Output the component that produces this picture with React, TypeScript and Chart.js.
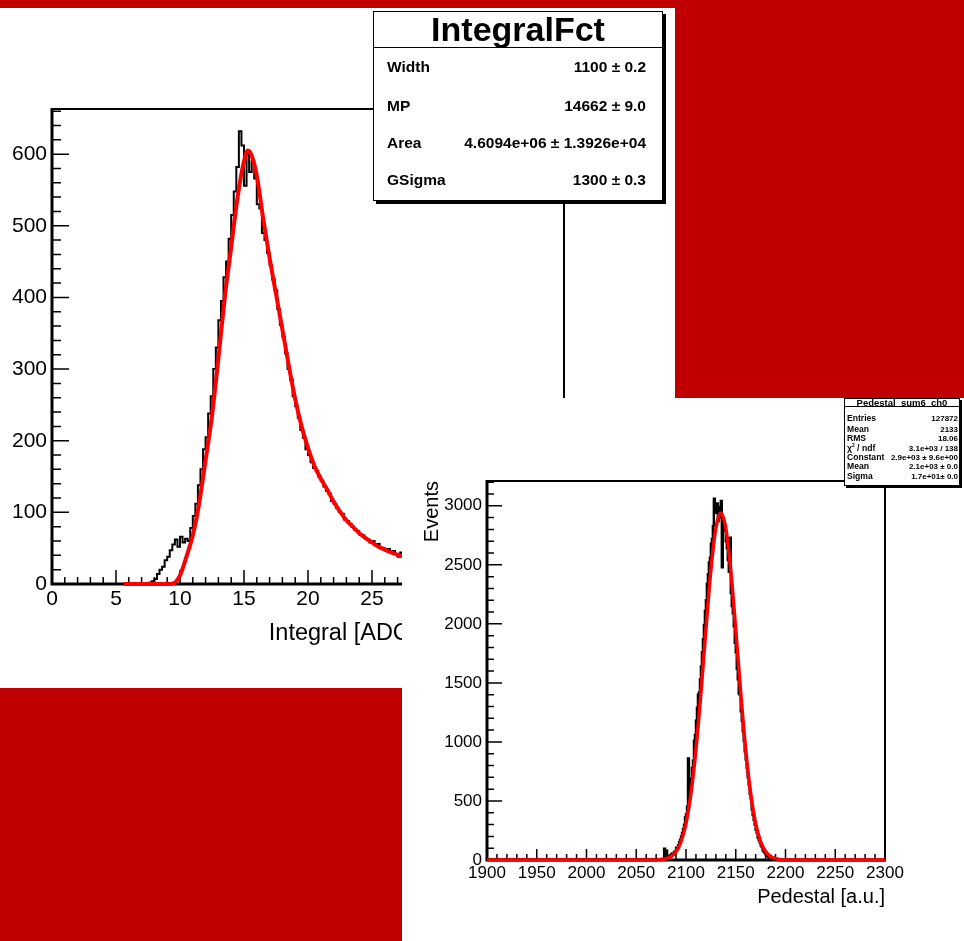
import React, { useEffect, useRef } from "react";
import { Chart, registerables } from "chart.js";

Chart.register(...registerables);

const FONT = '"Liberation Sans", Arial, Helvetica, sans-serif';
const BACKDROP = "#c00000";
const FIT_RED = "#ff0000";

// ---- Integral spectrum (left pad) ----
const INTEGRAL_BIN_START = 7.0;
const INTEGRAL_BIN_WIDTH = 0.2;
const INTEGRAL_COUNTS = [
  0, 0, 0, 1, 2, 4, 7, 14, 20, 24,
  33, 38, 47, 55, 62, 52, 66, 58, 63, 60,
  78, 95, 112, 138, 160, 188, 205, 238, 262, 300,
  330, 368, 395, 428, 450, 482, 515, 548, 582, 632,
  612, 556, 600, 575, 590, 566, 530, 524, 490, 480,
  462, 445, 425, 410, 384, 362, 345, 322, 300, 285,
  262, 248, 232, 215, 204, 188, 180, 170, 162, 158,
  150, 144, 136, 130, 126, 116, 112, 106, 101, 98,
  90, 88, 84, 80, 76, 74, 69, 68, 64, 62,
  58, 60, 54, 56, 51, 50, 47, 49, 45, 46,
  42, 38, 44, 40, 38,
];
const INTEGRAL_FIT_X = [
  5.6, 7, 8, 9, 9.5, 10, 10.5, 11, 11.5, 12, 12.5, 13, 13.5, 14, 14.5, 15, 15.3, 15.6, 16, 16.5,
  17, 17.5, 18, 18.5, 19, 19.5, 20, 20.5, 21, 21.5, 22, 22.5, 23, 23.5, 24, 24.5, 25, 25.5, 26, 26.5,
  27, 27.5, 28, 29, 30, 32, 34, 36, 38, 40,
];
const INTEGRAL_FIT_Y = [
  0, 0, 0, 0, 1, 12, 38, 68, 113, 173, 235, 315, 400, 470, 540, 590, 605, 598, 570, 510,
  455, 405, 355, 305, 258, 220, 190, 165, 147, 132, 115, 101, 89, 80, 71, 64, 58, 52, 48, 44,
  41, 38, 36, 32, 28, 22, 18, 15, 12, 10,
];
const INTEGRAL_X_TICKS = [0, 5, 10, 15, 20, 25, 30, 35, 40];
const INTEGRAL_Y_TICKS = [0, 100, 200, 300, 400, 500, 600];
const INTEGRAL_FIT_LABELS = ["Width", "MP", "Area", "GSigma"];
const INTEGRAL_FIT_VALUES = ["1100 \u00b1 0.2", "14662 \u00b1 9.0", "4.6094e+06 \u00b1 1.3926e+04", "1300 \u00b1 0.3"];

// ---- Pedestal spectrum (right pad) ----
const PEDESTAL_BIN_START = 2075;
const PEDESTAL_COUNTS = [
  4, 6, 9, 8, 95, 22, 78, 25, 21, 34,
  38, 48, 55, 44, 70, 66, 104, 93, 125, 150,
  172, 200, 230, 262, 300, 360, 388, 452, 860, 540,
  610, 690, 780, 840, 1010, 1060, 1180, 1290, 1400, 1420,
  1530, 1640, 1760, 1870, 1990, 2110, 2200, 2340, 2420, 2520,
  2560, 2680, 2720, 2830, 3060, 2980, 2940, 3020, 2870, 2990,
  2900, 3040, 2480, 2880, 2850, 2790, 2700, 2640, 2540, 2440,
  2730, 2260, 2150, 2090, 1980, 1840, 1760, 1620, 1530, 1410,
  1400, 1260, 1180, 1090, 1010, 920, 850, 780, 700, 640,
  560, 520, 430, 380, 340, 300, 255, 230, 190, 170,
  150, 125, 110, 82, 70, 58, 48, 36, 30, 22,
  18, 13, 10, 8, 6, 5, 3, 2, 2, 1, 0,
];
const PEDESTAL_FIT_X = [
  1900, 2060, 2070, 2075, 2080, 2085, 2090, 2095, 2100, 2105, 2110, 2115, 2120, 2125, 2130, 2135,
  2140, 2145, 2150, 2155, 2160, 2165, 2170, 2175, 2180, 2185, 2190, 2195, 2200, 2210, 2300,
];
const PEDESTAL_FIT_Y = [
  0, 0, 1, 4, 11, 30, 72, 156, 311, 565, 936, 1415, 1951, 2455, 2810, 2940,
  2810, 2455, 1951, 1415, 936, 565, 311, 156, 72, 30, 11, 4, 1, 0, 0,
];
const PEDESTAL_X_TICKS = [1900, 1950, 2000, 2050, 2100, 2150, 2200, 2250, 2300];
const PEDESTAL_Y_TICKS = [0, 500, 1000, 1500, 2000, 2500, 3000];
const PEDESTAL_STAT_LABELS = ["Entries", "Mean", "RMS", "chi2", "Constant", "Mean", "Sigma"];
const PEDESTAL_STAT_VALUES = [
  "127872", "2133", "18.06", "3.1e+03 / 138", "2.9e+03 \u00b1 9.6e+00", "2.1e+03 \u00b1 0.0", "1.7e+01\u00b1 0.0",
];

type Pt = { x: number; y: number };

function histogramSteps(start: number, width: number, counts: number[], lo: number, hi: number): Pt[] {
  const pts: Pt[] = [{ x: lo, y: 0 }];
  counts.forEach((c, i) => pts.push({ x: start + i * width, y: c }));
  const end = start + counts.length * width;
  pts.push({ x: end, y: 0 });
  if (hi > end) pts.push({ x: hi, y: 0 });
  return pts;
}

function curvePoints(xs: number[], ys: number[]): Pt[] {
  return xs.map((x, i) => ({ x, y: ys[i] }));
}

type FrameStyle = {
  xMajor: number[];
  xMinorStep: number;
  yMajor: number[];
  yMinorStep: number;
  xMajorLen: number;
  xMinorLen: number;
  yMajorLen: number;
  yMinorLen: number;
};

// ROOT-like frame: ticks pointing inwards, heavier axes on the left and bottom
function rootFrame(id: string, s: FrameStyle) {
  return {
    id,
    beforeDatasetsDraw(chart: any) {
      const { ctx, chartArea } = chart;
      const { left, right, top, bottom } = chartArea;
      const xs = chart.scales.x;
      const ys = chart.scales.y;
      ctx.save();
      ctx.strokeStyle = "#000";
      ctx.lineWidth = 1.5;
      ctx.beginPath();
      for (let v = xs.min; v <= xs.max + 1e-9; v += s.xMinorStep) {
        const major = s.xMajor.some((m) => Math.abs(m - v) < 1e-6);
        const px = xs.getPixelForValue(v);
        ctx.moveTo(px, bottom);
        ctx.lineTo(px, bottom - (major ? s.xMajorLen : s.xMinorLen));
      }
      for (let v = ys.min; v <= ys.max + 1e-9; v += s.yMinorStep) {
        const major = s.yMajor.some((m) => Math.abs(m - v) < 1e-6);
        const py = ys.getPixelForValue(v);
        ctx.moveTo(left, py);
        ctx.lineTo(left + (major ? s.yMajorLen : s.yMinorLen), py);
      }
      ctx.stroke();

      ctx.lineWidth = 2;
      ctx.beginPath();
      ctx.moveTo(left, top);
      ctx.lineTo(right, top);
      ctx.lineTo(right, bottom);
      ctx.stroke();

      ctx.lineWidth = 3;
      ctx.beginPath();
      ctx.moveTo(left, top - 1);
      ctx.lineTo(left, bottom);
      ctx.lineTo(right + 1, bottom);
      ctx.stroke();
      ctx.restore();
    },
  };
}

function tickFont(size: number) {
  return { family: FONT, size, weight: "normal" as const };
}

function IntegralPlot() {
  const ref = useRef<HTMLCanvasElement | null>(null);
  useEffect(() => {
    if (!ref.current) return;
    const chart = new Chart(ref.current, {
      type: "line",
      data: {
        datasets: [
          {
            data: curvePoints(INTEGRAL_FIT_X, INTEGRAL_FIT_Y),
            borderColor: FIT_RED,
            borderWidth: 4,
            pointRadius: 0,
            cubicInterpolationMode: "monotone",
            fill: false,
            clip: false as any,
          },
          {
            data: histogramSteps(INTEGRAL_BIN_START, INTEGRAL_BIN_WIDTH, INTEGRAL_COUNTS, 0, 0),
            borderColor: "#000",
            borderWidth: 2,
            pointRadius: 0,
            stepped: "after",
            fill: false,
            clip: false as any,
          },
        ],
      },
      options: {
        animation: false,
        responsive: false,
        devicePixelRatio: 1,
        events: [],
        layout: { padding: { left: 0, right: 111, top: 101, bottom: 0 } },
        plugins: { legend: { display: false }, tooltip: { enabled: false } },
        scales: {
          x: {
            type: "linear",
            min: 0,
            max: 40,
            grid: { display: false, drawTicks: false },
            border: { display: false },
            ticks: {
              color: "#000",
              font: tickFont(21),
              padding: 3,
              maxRotation: 0,
              minRotation: 0,
              autoSkip: false,
              callback: (v: any) => String(v),
            },
            afterBuildTicks: (s: any) => {
              s.ticks = INTEGRAL_X_TICKS.map((value) => ({ value }));
            },
            afterFit: (s: any) => {
              s.height = 104;
            },
            title: {
              display: true,
              text: "Integral [ADC counts / 1000]",
              align: "end",
              color: "#000",
              font: { family: FONT, size: 23.5 },
              padding: { top: 0, bottom: 40 },
            },
          },
          y: {
            type: "linear",
            min: 0,
            max: 663,
            grid: { display: false, drawTicks: false },
            border: { display: false },
            ticks: {
              color: "#000",
              font: tickFont(21),
              padding: 5,
              autoSkip: false,
              callback: (v: any) => String(v),
            },
            afterBuildTicks: (s: any) => {
              s.ticks = INTEGRAL_Y_TICKS.map((value) => ({ value }));
            },
            afterFit: (s: any) => {
              s.width = 52;
            },
          },
        },
      } as any,
      plugins: [
        rootFrame("integralFrame", {
          xMajor: INTEGRAL_X_TICKS,
          xMinorStep: 1,
          yMajor: INTEGRAL_Y_TICKS,
          yMinorStep: 20,
          xMajorLen: 14,
          xMinorLen: 7,
          yMajorLen: 17,
          yMinorLen: 9,
        }),
      ],
    });
    return () => chart.destroy();
  }, []);
  return (
    <canvas
      ref={ref}
      width={675}
      height={680}
      style={{ position: "absolute", left: 0, top: 8, width: 675, height: 680 }}
    />
  );
}

function PedestalPlot() {
  const ref = useRef<HTMLCanvasElement | null>(null);
  useEffect(() => {
    if (!ref.current) return;
    const chart = new Chart(ref.current, {
      type: "line",
      data: {
        datasets: [
          {
            data: curvePoints(PEDESTAL_FIT_X, PEDESTAL_FIT_Y),
            borderColor: FIT_RED,
            borderWidth: 3.5,
            pointRadius: 0,
            cubicInterpolationMode: "monotone",
            fill: false,
            clip: false as any,
          },
          {
            data: histogramSteps(PEDESTAL_BIN_START, 1, PEDESTAL_COUNTS, 1900, 2300),
            borderColor: "#000",
            borderWidth: 2.4,
            pointRadius: 0,
            stepped: "after",
            fill: false,
            clip: false as any,
          },
        ],
      },
      options: {
        animation: false,
        responsive: false,
        devicePixelRatio: 1,
        events: [],
        layout: { padding: { left: 0, right: 79, top: 83, bottom: 0 } },
        plugins: { legend: { display: false }, tooltip: { enabled: false } },
        scales: {
          x: {
            type: "linear",
            min: 1900,
            max: 2300,
            grid: { display: false, drawTicks: false },
            border: { display: false },
            ticks: {
              color: "#000",
              font: tickFont(17),
              padding: 3,
              maxRotation: 0,
              minRotation: 0,
              autoSkip: false,
              callback: (v: any) => String(v),
            },
            afterBuildTicks: (s: any) => {
              s.ticks = PEDESTAL_X_TICKS.map((value) => ({ value }));
            },
            afterFit: (s: any) => {
              s.height = 81;
            },
            title: {
              display: true,
              text: "Pedestal [a.u.]",
              align: "end",
              color: "#000",
              font: { family: FONT, size: 20 },
              padding: { top: 0, bottom: 32 },
            },
          },
          y: {
            type: "linear",
            min: 0,
            max: 3210,
            grid: { display: false, drawTicks: false },
            border: { display: false },
            ticks: {
              color: "#000",
              font: tickFont(17),
              padding: 5,
              autoSkip: false,
              callback: (v: any) => String(v),
            },
            afterBuildTicks: (s: any) => {
              s.ticks = PEDESTAL_Y_TICKS.map((value) => ({ value }));
            },
            afterFit: (s: any) => {
              s.width = 85;
            },
            title: {
              display: true,
              text: "Events",
              align: "end",
              color: "#000",
              font: { family: FONT, size: 20 },
              padding: { top: 18, bottom: 0 },
            },
          },
        },
      } as any,
      plugins: [
        rootFrame("pedestalFrame", {
          xMajor: PEDESTAL_X_TICKS,
          xMinorStep: 10,
          yMajor: PEDESTAL_Y_TICKS,
          yMinorStep: 100,
          xMajorLen: 11,
          xMinorLen: 6,
          yMajorLen: 15,
          yMinorLen: 7,
        }),
      ],
    });
    return () => chart.destroy();
  }, []);
  return (
    <canvas
      ref={ref}
      width={562}
      height={543}
      style={{ position: "absolute", left: 402, top: 398, width: 562, height: 543 }}
    />
  );
}

function IntegralFitBox() {
  const rowCenters = [55, 94, 131, 168];
  return (
    <div
      style={{
        position: "absolute",
        left: 373,
        top: 11,
        width: 290,
        height: 190,
        boxSizing: "border-box",
        background: "#fff",
        border: "1px solid #000",
        boxShadow: "3px 3px 0 #000",
        fontFamily: FONT,
        color: "#000",
      }}
    >
      <div
        style={{
          height: 35,
          lineHeight: "35px",
          borderBottom: "1px solid #000",
          textAlign: "center",
          fontSize: 34,
          fontWeight: "bold",
        }}
      >
        IntegralFct
      </div>
      {INTEGRAL_FIT_LABELS.map((label, i) => (
        <div
          key={label}
          style={{
            position: "absolute",
            left: 13,
            right: 16,
            top: rowCenters[i] - 10,
            height: 20,
            lineHeight: "20px",
            fontSize: 15.5,
            fontWeight: "bold",
            display: "flex",
            justifyContent: "space-between",
            whiteSpace: "nowrap",
          }}
        >
          <span>{label}</span>
          <span>{INTEGRAL_FIT_VALUES[i]}</span>
        </div>
      ))}
    </div>
  );
}

function PedestalStatsBox() {
  const rowCenters = [19.5, 30, 39.7, 49, 58, 67.7, 77];
  return (
    <div
      style={{
        position: "absolute",
        left: 844,
        top: 398,
        width: 116,
        height: 88,
        boxSizing: "border-box",
        background: "#fff",
        border: "1px solid #000",
        boxShadow: "2px 2px 0 #000",
        fontFamily: FONT,
        color: "#000",
        fontWeight: "bold",
      }}
    >
      <div
        style={{
          height: 7,
          lineHeight: "8px",
          fontSize: 9.5,
          borderBottom: "1px solid #000",
          textAlign: "center",
          whiteSpace: "pre",
        }}
      >
        {"Pedestal  sum6  ch0"}
      </div>
      {PEDESTAL_STAT_LABELS.map((label, i) => (
        <div
          key={i}
          style={{
            position: "absolute",
            left: 2,
            right: 1,
            top: rowCenters[i] - 4.5,
            height: 9,
            lineHeight: "9px",
            display: "flex",
            justifyContent: "space-between",
            whiteSpace: "nowrap",
          }}
        >
          <span style={{ fontSize: 8.6 }}>
            {label === "chi2" ? (
              <>
                {"\u03c7"}
                <sup style={{ fontSize: 5, lineHeight: 0, verticalAlign: "4px" }}>2</sup>
                {" / ndf"}
              </>
            ) : (
              label
            )}
          </span>
          <span style={{ fontSize: 8 }}>{PEDESTAL_STAT_VALUES[i]}</span>
        </div>
      ))}
    </div>
  );
}

export default function App() {
  return (
    <div
      style={{
        position: "fixed",
        left: 0,
        top: 0,
        width: 964,
        height: 941,
        background: BACKDROP,
        overflow: "hidden",
        fontFamily: FONT,
      }}
    >
      <div style={{ position: "absolute", left: 0, top: 8, width: 675, height: 680, background: "#fff" }} />
      <IntegralPlot />
      <IntegralFitBox />
      <div style={{ position: "absolute", left: 402, top: 398, width: 562, height: 543, background: "#fff" }} />
      <PedestalPlot />
      <PedestalStatsBox />
    </div>
  );
}
